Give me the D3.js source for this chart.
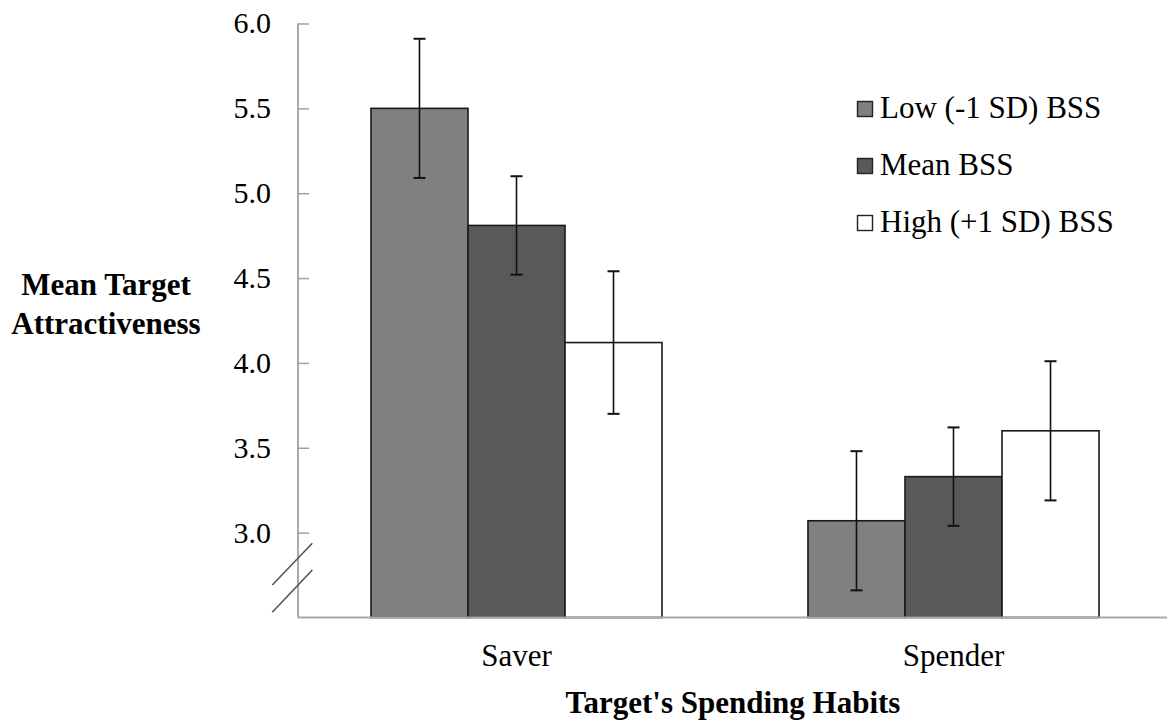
<!DOCTYPE html>
<html>
<head>
<meta charset="utf-8">
<script src="https://cdn.jsdelivr.net/npm/d3@7"></script>
<style>
  html, body { margin: 0; padding: 0; background: #fff; }
  svg { display: block; font-family: "Liberation Serif", "Times New Roman", serif; }
</style>
</head>
<body>
<svg id="chart" width="1167" height="724"></svg>
<script>
// Target's spending habits (groups) and BSS levels (series)
const groups = ["Saver", "Spender"];
const seriesNames = ["Low (-1 SD) BSS", "Mean BSS", "High (+1 SD) BSS"];
const lowValues  = [5.50, 3.07];
const meanValues = [4.81, 3.33];
const highValues = [4.12, 3.60];
const lowErrors  = [0.41, 0.41];
const meanErrors = [0.29, 0.29];
const highErrors = [0.42, 0.41];
const yTicks = [3.0, 3.5, 4.0, 4.5, 5.0, 5.5, 6.0];
const yDomain = [2.5, 6.0];

const seriesValues = [lowValues, meanValues, highValues];
const seriesErrors = [lowErrors, meanErrors, highErrors];
const fills = ["#808080", "#595959", "#ffffff"];

const rows = [];
groups.forEach((g, gi) => {
  seriesNames.forEach((s, si) => {
    rows.push({ group: g, series: s, si, value: seriesValues[si][gi], err: seriesErrors[si][gi] });
  });
});

const svg = d3.select("#chart");
const axisLeft = 298, axisBottom = 617.5, axisTop = 23.5;

const y = d3.scaleLinear().domain(yDomain).range([axisBottom, axisTop]);
const x0 = d3.scaleBand().domain(groups).range([axisLeft, 1172])
  .paddingInner(0.334).paddingOuter(0.167);
const x1 = d3.scaleBand().domain(seriesNames).range([0, x0.bandwidth()]).padding(0);

// Bars
const bars = svg.append("g");
bars.selectAll("rect").data(rows).join("rect")
  .attr("x", d => x0(d.group) + x1(d.series))
  .attr("y", d => y(d.value))
  .attr("width", x1.bandwidth())
  .attr("height", d => axisBottom - y(d.value))
  .attr("fill", d => fills[d.si])
  .attr("stroke", "#1a1a1a")
  .attr("stroke-width", 1.6);

// Error bars
const eb = svg.append("g").attr("stroke", "#111").attr("stroke-width", 1.6);
rows.forEach(d => {
  const cx = x0(d.group) + x1(d.series) + x1.bandwidth() / 2;
  const yt = y(d.value + d.err), yb = y(d.value - d.err);
  eb.append("line").attr("x1", cx).attr("x2", cx).attr("y1", yt).attr("y2", yb);
  eb.append("line").attr("x1", cx - 6).attr("x2", cx + 6).attr("y1", yt).attr("y2", yt).attr("stroke-width", 2);
  eb.append("line").attr("x1", cx - 6).attr("x2", cx + 6).attr("y1", yb).attr("y2", yb).attr("stroke-width", 2);
});

// Y axis: ticks point inward, labels to the left
const yAxis = d3.axisRight(y).tickValues(yTicks).tickSize(11).tickFormat("");
const gy = svg.append("g").attr("transform", `translate(${axisLeft},0)`).call(yAxis);
gy.select(".domain").remove();
gy.selectAll(".tick line").attr("stroke", "#a0a0a0").attr("stroke-width", 1.5);
svg.append("line")
  .attr("x1", axisLeft).attr("x2", axisLeft)
  .attr("y1", y(6.0)).attr("y2", axisBottom)
  .attr("stroke", "#a0a0a0").attr("stroke-width", 1.8);
svg.append("g").selectAll("text").data(yTicks).join("text")
  .attr("x", 271)
  .attr("y", d => y(d))
  .attr("dy", "0.33em")
  .attr("text-anchor", "end")
  .attr("font-size", 30)
  .attr("fill", "#000")
  .text(d => d3.format(".1f")(d));

// Axis break marks
const brk = svg.append("g").attr("stroke", "#555").attr("stroke-width", 1.6);
[[585, 543.3], [612.3, 570]].forEach(([ya, yb]) => {
  brk.append("line").attr("x1", 272.3).attr("y1", ya).attr("x2", 312.3).attr("y2", yb);
});

// X axis
svg.append("line")
  .attr("x1", axisLeft).attr("x2", 1167)
  .attr("y1", axisBottom).attr("y2", axisBottom)
  .attr("stroke", "#a8a8a8").attr("stroke-width", 2);
svg.append("g").selectAll("text").data(groups).join("text")
  .attr("x", d => x0(d) + x0.bandwidth() / 2)
  .attr("y", 666)
  .attr("text-anchor", "middle")
  .attr("font-size", 31)
  .text(d => d);

// Axis titles
svg.append("text")
  .attr("x", 733).attr("y", 713)
  .attr("text-anchor", "middle")
  .attr("font-size", 31).attr("font-weight", "bold")
  .text("Target's Spending Habits");
const yTitle = svg.append("text")
  .attr("text-anchor", "middle")
  .attr("font-size", 31).attr("font-weight", "bold");
yTitle.append("tspan").attr("x", 106).attr("y", 295).text("Mean Target");
yTitle.append("tspan").attr("x", 106).attr("y", 334).text("Attractiveness");

// Legend
const legend = svg.append("g");
seriesNames.forEach((s, i) => {
  const base = 118 + i * 57;
  legend.append("rect")
    .attr("x", 857.5).attr("y", base - 16.5)
    .attr("width", 15).attr("height", 15)
    .attr("fill", fills[i]).attr("stroke", "#222").attr("stroke-width", 1.4);
  legend.append("text")
    .attr("x", 880).attr("y", base)
    .attr("font-size", 31)
    .text(s);
});
</script>
</body>
</html>
